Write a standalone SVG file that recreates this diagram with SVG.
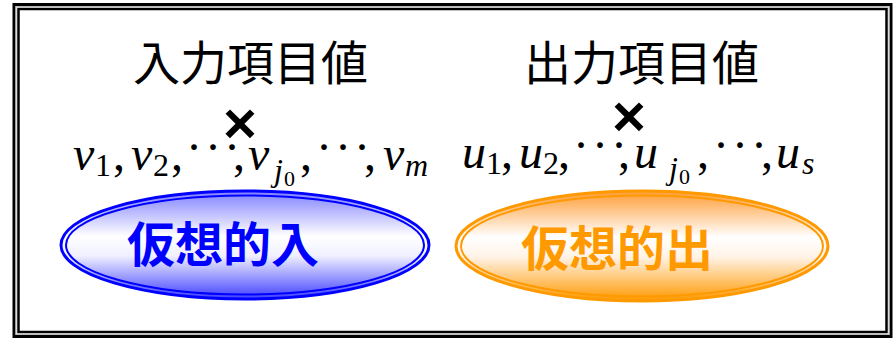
<svg xmlns="http://www.w3.org/2000/svg" width="894" height="339" viewBox="0 0 894 339">
<defs>
<linearGradient id="gb" x1="0" y1="0" x2="0" y2="1">
<stop offset="0" stop-color="#7f7fff"/>
<stop offset="0.42" stop-color="#ffffff"/>
<stop offset="0.6" stop-color="#f0f0ff"/>
<stop offset="1" stop-color="#4040ff"/>
</linearGradient>
<linearGradient id="go" x1="0" y1="0" x2="0" y2="1">
<stop offset="0" stop-color="#ff9c33"/>
<stop offset="0.42" stop-color="#ffffff"/>
<stop offset="0.6" stop-color="#fff3e6"/>
<stop offset="1" stop-color="#ff9900"/>
</linearGradient>
<style>
.title{font-family:"Noto Sans CJK JP","Noto Sans CJK SC",sans-serif;font-size:47px;fill:#000;text-anchor:middle}
.lab{font-family:"Noto Sans CJK JP","Noto Sans CJK SC",sans-serif;font-size:48px;font-weight:bold}
.m{font-family:"Liberation Serif","Times New Roman",serif;font-size:48px;font-style:italic;fill:#000}
.d{font-family:"Liberation Serif","Times New Roman",serif;font-size:32px;fill:#000}
.di{font-family:"Liberation Serif","Times New Roman",serif;font-size:32px;font-style:italic;fill:#000}
.z{font-family:"Liberation Serif","Times New Roman",serif;font-size:22px;fill:#000}
.dd{font-family:"Liberation Serif",serif;font-size:48px;letter-spacing:3px;fill:#000}
.c{font-family:"Liberation Serif",serif;font-size:48px;fill:#000}
.x{font-family:"Liberation Sans","DejaVu Sans",sans-serif;font-size:58px;font-weight:bold;fill:#000;text-anchor:middle}
.frame{fill:none;stroke:#000}
</style>
</defs>
<rect width="894" height="339" fill="#fff"/>
<g id="frame">
<rect class="frame" x="14" y="4.5" width="877" height="332" stroke-width="3"/>
<rect x="16" y="6.5" width="873" height="328" fill="none" stroke="#bbb" stroke-width="1"/>
<rect class="frame" x="18.5" y="9" width="868" height="323" stroke-width="2.5"/>
</g>
<g id="input-title"><text class="title" x="250.5" y="80">入力項目値</text></g>
<g id="output-title"><text class="title" x="641.5" y="80">出力項目値</text></g>
<g id="input-cross"><text class="x" x="240" y="143">×</text></g>
<g id="output-cross"><text class="x" x="629" y="136">×</text></g>
<g id="input-vars">
<text class="m" x="73" y="170">v</text>
<text class="d" x="95" y="176">1</text>
<text class="c" x="113" y="170">,</text>
<text class="m" x="131" y="170">v</text>
<text class="d" x="153" y="176">2</text>
<text class="c" x="171" y="170">,</text>
<text class="dd" x="186" y="163">···</text>
<text class="c" x="233" y="170">,</text>
<text class="m" x="248" y="170">v</text>
<text class="di" x="274" y="181">j</text>
<text class="z" x="284" y="186">0</text>
<text class="c" x="300" y="170">,</text>
<text class="dd" x="316" y="163">···</text>
<text class="c" x="364" y="170">,</text>
<text class="m" x="383" y="170">v</text>
<text class="di" x="405" y="176">m</text>
</g>
<g id="output-vars">
<text class="m" x="462" y="168">u</text>
<text class="d" x="486" y="174">1</text>
<text class="c" x="501" y="168">,</text>
<text class="m" x="519" y="168">u</text>
<text class="d" x="543" y="174">2</text>
<text class="c" x="558" y="168">,</text>
<text class="dd" x="573" y="161">···</text>
<text class="c" x="618" y="168">,</text>
<text class="m" x="634" y="168">u</text>
<text class="di" x="669" y="179">j</text>
<text class="z" x="679" y="184">0</text>
<text class="c" x="697" y="168">,</text>
<text class="dd" x="713" y="161">···</text>
<text class="c" x="761" y="168">,</text>
<text class="m" x="776" y="168">u</text>
<text class="di" x="802" y="174">s</text>
</g>
<g id="virtual-input">
<ellipse cx="245" cy="245" rx="184" ry="54" fill="url(#gb)" stroke="#0000ff" stroke-width="3"/>
<ellipse cx="245" cy="245" rx="179" ry="49.5" fill="none" stroke="#0000ff" stroke-width="2"/>
<text class="lab" x="127" y="262" fill="#0000ff">仮想的入</text>
</g>
<g id="virtual-output">
<ellipse cx="642" cy="246" rx="186" ry="55" fill="url(#go)" stroke="#ff9900" stroke-width="3"/>
<ellipse cx="642" cy="246" rx="181" ry="50.5" fill="none" stroke="#ff9900" stroke-width="2"/>
<text class="lab" x="521" y="266" fill="#ff9900">仮想的出</text>
</g>
</svg>
